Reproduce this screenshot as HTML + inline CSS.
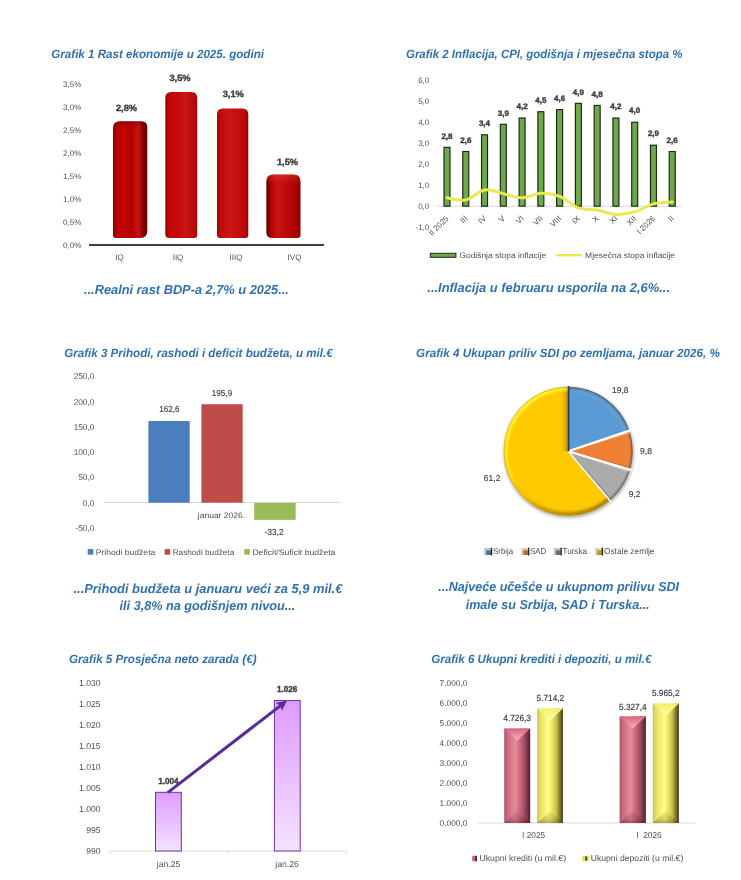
<!DOCTYPE html>
<html lang="sr"><head><meta charset="utf-8"><title>Grafici</title>
<style>html,body{margin:0;padding:0;background:#fff;}body{width:741px;height:880px;overflow:hidden;}svg{display:block;will-change:transform;text-rendering:geometricPrecision;font-family:"Liberation Sans", sans-serif;}</style>
</head><body>
<svg width="741" height="880" viewBox="0 0 741 880">
<defs>
<linearGradient id="r1" x1="0" x2="1" y1="0" y2="0"><stop offset="0" stop-color="#7d0000"/><stop offset="0.10" stop-color="#b80202"/><stop offset="0.3" stop-color="#c20505"/><stop offset="0.55" stop-color="#b60000"/><stop offset="0.74" stop-color="#c41616"/><stop offset="0.84" stop-color="#9a0505"/><stop offset="0.9" stop-color="#740000"/><stop offset="1" stop-color="#6a0000"/></linearGradient>
<linearGradient id="r2" x1="0" x2="1" y1="0" y2="0"><stop offset="0" stop-color="#8a0000"/><stop offset="0.10" stop-color="#c00606"/><stop offset="0.45" stop-color="#c40a0a"/><stop offset="0.62" stop-color="#c91616"/><stop offset="0.85" stop-color="#bb0c0c"/><stop offset="1" stop-color="#a60606"/></linearGradient>
<linearGradient id="r3" x1="0" x2="1" y1="0" y2="0"><stop offset="0" stop-color="#a00404"/><stop offset="0.12" stop-color="#c20a0a"/><stop offset="0.4" stop-color="#ca1616"/><stop offset="0.7" stop-color="#c40c0c"/><stop offset="0.92" stop-color="#b80606"/><stop offset="1" stop-color="#900000"/></linearGradient>
<linearGradient id="r4" x1="0" x2="1" y1="0" y2="0"><stop offset="0" stop-color="#6c0000"/><stop offset="0.07" stop-color="#860000"/><stop offset="0.16" stop-color="#b20606"/><stop offset="0.32" stop-color="#c81414"/><stop offset="0.6" stop-color="#be0808"/><stop offset="0.86" stop-color="#aa0202"/><stop offset="1" stop-color="#880000"/></linearGradient>
<linearGradient id="tophi" x1="0" x2="0" y1="0" y2="1"><stop offset="0" stop-color="#ff5a4a" stop-opacity="0.30"/><stop offset="1" stop-color="#ff5a4a" stop-opacity="0"/></linearGradient>
<linearGradient id="topsh" x1="0" x2="0" y1="0" y2="1"><stop offset="0" stop-color="#400000" stop-opacity="0.30"/><stop offset="1" stop-color="#400000" stop-opacity="0"/></linearGradient>
<linearGradient id="pb" x1="0" x2="0" y1="0" y2="1"><stop offset="0" stop-color="#df9bff"/><stop offset="1" stop-color="#f3e3ff"/></linearGradient>
<linearGradient id="k6" x1="0" x2="1" y1="0" y2="0"><stop offset="0" stop-color="#a85466"/><stop offset="0.08" stop-color="#c4667a"/><stop offset="0.42" stop-color="#e98a9b"/><stop offset="0.52" stop-color="#dc788b"/><stop offset="0.75" stop-color="#aa5264"/><stop offset="0.92" stop-color="#6c3242"/><stop offset="1" stop-color="#4c202e"/></linearGradient>
<linearGradient id="k6t" x1="0" x2="0" y1="0" y2="1"><stop offset="0" stop-color="#dc6480"/><stop offset="1" stop-color="#f8b0bc"/></linearGradient>
<linearGradient id="k6b" x1="0" x2="0" y1="0" y2="1"><stop offset="0" stop-color="#50101e" stop-opacity="0.08"/><stop offset="0.7" stop-color="#50101e" stop-opacity="0.22"/><stop offset="1" stop-color="#50101e" stop-opacity="0.42"/></linearGradient>
<linearGradient id="d6" x1="0" x2="1" y1="0" y2="0"><stop offset="0" stop-color="#c4bc4e"/><stop offset="0.10" stop-color="#e4de5e"/><stop offset="0.44" stop-color="#ffff8a"/><stop offset="0.55" stop-color="#f3ed68"/><stop offset="0.75" stop-color="#c4bc4e"/><stop offset="0.92" stop-color="#6a6428"/><stop offset="1" stop-color="#3c3a12"/></linearGradient>
<linearGradient id="d6t" x1="0" x2="0" y1="0" y2="1"><stop offset="0" stop-color="#f6f060"/><stop offset="1" stop-color="#ffffb0"/></linearGradient>
<linearGradient id="d6b" x1="0" x2="0" y1="0" y2="1"><stop offset="0" stop-color="#4a4400" stop-opacity="0.08"/><stop offset="0.7" stop-color="#4a4400" stop-opacity="0.22"/><stop offset="1" stop-color="#4a4400" stop-opacity="0.42"/></linearGradient>
<filter id="blur2" x="-20%" y="-20%" width="140%" height="140%"><feGaussianBlur stdDeviation="1.6"/></filter>
<radialGradient id="rim" cx="0.5" cy="0.5" r="0.5"><stop offset="0.90" stop-color="#000" stop-opacity="0"/><stop offset="0.95" stop-color="#000" stop-opacity="0.10"/><stop offset="1" stop-color="#3a2a00" stop-opacity="0.38"/></radialGradient>
<linearGradient id="hil" x1="0" y1="0" x2="1" y2="1"><stop offset="0" stop-color="#fff" stop-opacity="0.55"/><stop offset="0.5" stop-color="#fff" stop-opacity="0.05"/><stop offset="1" stop-color="#fff" stop-opacity="0"/></linearGradient>
</defs>
<text x="51.3" y="57.8" font-size="12" fill="#2f70b1" font-weight="bold" font-style="italic" textLength="212.7" lengthAdjust="spacingAndGlyphs">Grafik 1 Rast ekonomije u 2025. godini</text>
<text x="81.3" y="87" font-size="8" fill="#505050" text-anchor="end">3,5%</text>
<text x="81.3" y="110" font-size="8" fill="#505050" text-anchor="end">3,0%</text>
<text x="81.3" y="133" font-size="8" fill="#505050" text-anchor="end">2,5%</text>
<text x="81.3" y="156" font-size="8" fill="#505050" text-anchor="end">2,0%</text>
<text x="81.3" y="179" font-size="8" fill="#505050" text-anchor="end">1,5%</text>
<text x="81.3" y="202" font-size="8" fill="#505050" text-anchor="end">1,0%</text>
<text x="81.3" y="225" font-size="8" fill="#505050" text-anchor="end">0,5%</text>
<text x="81.3" y="248" font-size="8" fill="#505050" text-anchor="end">0,0%</text>
<path d="M113,128.3 Q113,121.3 120,121.3 L141.3,121.3 Q147.3,121.3 147.3,127.3 L147.3,231 Q147.3,238 140.3,238 L116,238 Q113,238 113,235 Z" fill="url(#r1)"/>
<path d="M165.3,98 Q165.3,92 171.3,92 L191.2,92 Q197.2,92 197.2,98 L197.2,235 Q197.2,238 194.2,238 L169.3,238 Q165.3,238 165.3,234 Z" fill="url(#r2)"/>
<path d="M217,114.6 Q217,108.6 223,108.6 L242.3,108.6 Q248.3,108.6 248.3,114.6 L248.3,235 Q248.3,238 245.3,238 L220,238 Q217,238 217,235 Z" fill="url(#r3)"/>
<path d="M266.3,181.5 Q266.3,174.5 273.3,174.5 L293.5,174.5 Q300.5,174.5 300.5,181.5 L300.5,235 Q300.5,238 297.5,238 L272.3,238 Q266.3,238 266.3,232 Z" fill="url(#r4)"/>
<path d="M266.3,181.5 Q266.3,174.5 273.3,174.5 L293.5,174.5 Q300.5,174.5 300.5,181.5 L300.5,184 L266.3,184 Z" fill="url(#tophi)"/>
<path d="M113,128.3 Q113,121.3 120,121.3 L141.3,121.3 Q147.3,121.3 147.3,127.3 L147.3,129 L113,129 Z" fill="url(#topsh)"/>
<rect x="89" y="244" width="235" height="2" fill="#404040"/>
<text x="115.9" y="110.8" font-size="9.1" fill="#404040" font-weight="bold" stroke="#404040" stroke-width="0.4" textLength="21.2" lengthAdjust="spacingAndGlyphs">2,8%</text>
<text x="169.4" y="80.8" font-size="9.1" fill="#404040" font-weight="bold" stroke="#404040" stroke-width="0.4" textLength="21.2" lengthAdjust="spacingAndGlyphs">3,5%</text>
<text x="222.70000000000002" y="97.3" font-size="9.1" fill="#404040" font-weight="bold" stroke="#404040" stroke-width="0.4" textLength="21.2" lengthAdjust="spacingAndGlyphs">3,1%</text>
<text x="276.9" y="164.8" font-size="9.1" fill="#404040" font-weight="bold" stroke="#404040" stroke-width="0.4" textLength="21.2" lengthAdjust="spacingAndGlyphs">1,5%</text>
<text x="119.5" y="260" font-size="8" fill="#505050" text-anchor="middle">IQ</text>
<text x="178" y="260" font-size="8" fill="#505050" text-anchor="middle">IIQ</text>
<text x="236" y="260" font-size="8" fill="#505050" text-anchor="middle">IIIQ</text>
<text x="294.5" y="260" font-size="8" fill="#505050" text-anchor="middle">IVQ</text>
<text x="84" y="293.5" font-size="13" fill="#2f70b1" font-weight="bold" font-style="italic" textLength="204.8" lengthAdjust="spacingAndGlyphs">...Realni rast BDP-a 2,7% u 2025...</text>
<text x="406" y="57.7" font-size="12" fill="#2f70b1" font-weight="bold" font-style="italic" textLength="276.4" lengthAdjust="spacingAndGlyphs">Grafik 2 Inflacija, CPI, godišnja i mjesečna stopa %</text>
<text x="429.3" y="83.0" font-size="8" fill="#505050" text-anchor="end">6,0</text>
<text x="429.3" y="103.95" font-size="8" fill="#505050" text-anchor="end">5,0</text>
<text x="429.3" y="124.9" font-size="8" fill="#505050" text-anchor="end">4,0</text>
<text x="429.3" y="145.85" font-size="8" fill="#505050" text-anchor="end">3,0</text>
<text x="429.3" y="166.8" font-size="8" fill="#505050" text-anchor="end">2,0</text>
<text x="429.3" y="187.75" font-size="8" fill="#505050" text-anchor="end">1,0</text>
<text x="429.3" y="208.7" font-size="8" fill="#505050" text-anchor="end">0,0</text>
<text x="429.3" y="229.65" font-size="8" fill="#505050" text-anchor="end">-1,0</text>
<rect x="437" y="205.7" width="245" height="1" fill="#d9d9d9"/>
<rect x="444.00" y="147.34" width="6.0" height="58.86" fill="#6fa84c" stroke="#1a2810" stroke-width="1.15"/>
<text x="441.4" y="138.5" font-size="8.0" fill="#404040" font-weight="bold" stroke="#404040" stroke-width="0.4" textLength="11.2" lengthAdjust="spacingAndGlyphs">2,8</text>
<text x="449.2" y="219.0" font-size="8" fill="#505050" text-anchor="end" transform="rotate(-45 449.2 219.0)">II 2025</text>
<rect x="462.77" y="151.53" width="6.0" height="54.67" fill="#6fa84c" stroke="#1a2810" stroke-width="1.15"/>
<text x="460.2" y="142.7" font-size="8.0" fill="#404040" font-weight="bold" stroke="#404040" stroke-width="0.4" textLength="11.2" lengthAdjust="spacingAndGlyphs">2,6</text>
<text x="468.0" y="219.0" font-size="8" fill="#505050" text-anchor="end" transform="rotate(-45 468.0 219.0)">III</text>
<rect x="481.54" y="134.77" width="6.0" height="71.43" fill="#6fa84c" stroke="#1a2810" stroke-width="1.15"/>
<text x="478.9" y="126.0" font-size="8.0" fill="#404040" font-weight="bold" stroke="#404040" stroke-width="0.4" textLength="11.2" lengthAdjust="spacingAndGlyphs">3,4</text>
<text x="486.7" y="219.0" font-size="8" fill="#505050" text-anchor="end" transform="rotate(-45 486.7 219.0)">IV</text>
<rect x="500.31" y="124.29" width="6.0" height="81.91" fill="#6fa84c" stroke="#1a2810" stroke-width="1.15"/>
<text x="497.7" y="115.5" font-size="8.0" fill="#404040" font-weight="bold" stroke="#404040" stroke-width="0.4" textLength="11.2" lengthAdjust="spacingAndGlyphs">3,9</text>
<text x="505.5" y="219.0" font-size="8" fill="#505050" text-anchor="end" transform="rotate(-45 505.5 219.0)">V</text>
<rect x="519.08" y="118.01" width="6.0" height="88.19" fill="#6fa84c" stroke="#1a2810" stroke-width="1.15"/>
<text x="516.5" y="109.2" font-size="8.0" fill="#404040" font-weight="bold" stroke="#404040" stroke-width="0.4" textLength="11.2" lengthAdjust="spacingAndGlyphs">4,2</text>
<text x="524.3" y="219.0" font-size="8" fill="#505050" text-anchor="end" transform="rotate(-45 524.3 219.0)">VI</text>
<rect x="537.85" y="111.72" width="6.0" height="94.47" fill="#6fa84c" stroke="#1a2810" stroke-width="1.15"/>
<text x="535.2" y="102.9" font-size="8.0" fill="#404040" font-weight="bold" stroke="#404040" stroke-width="0.4" textLength="11.2" lengthAdjust="spacingAndGlyphs">4,5</text>
<text x="543.1" y="219.0" font-size="8" fill="#505050" text-anchor="end" transform="rotate(-45 543.1 219.0)">VII</text>
<rect x="556.62" y="109.63" width="6.0" height="96.57" fill="#6fa84c" stroke="#1a2810" stroke-width="1.15"/>
<text x="554.0" y="100.8" font-size="8.0" fill="#404040" font-weight="bold" stroke="#404040" stroke-width="0.4" textLength="11.2" lengthAdjust="spacingAndGlyphs">4,6</text>
<text x="561.8" y="219.0" font-size="8" fill="#505050" text-anchor="end" transform="rotate(-45 561.8 219.0)">VIII</text>
<rect x="575.39" y="103.34" width="6.0" height="102.86" fill="#6fa84c" stroke="#1a2810" stroke-width="1.15"/>
<text x="572.8" y="94.5" font-size="8.0" fill="#404040" font-weight="bold" stroke="#404040" stroke-width="0.4" textLength="11.2" lengthAdjust="spacingAndGlyphs">4,9</text>
<text x="580.6" y="219.0" font-size="8" fill="#505050" text-anchor="end" transform="rotate(-45 580.6 219.0)">IX</text>
<rect x="594.16" y="105.44" width="6.0" height="100.76" fill="#6fa84c" stroke="#1a2810" stroke-width="1.15"/>
<text x="591.6" y="96.6" font-size="8.0" fill="#404040" font-weight="bold" stroke="#404040" stroke-width="0.4" textLength="11.2" lengthAdjust="spacingAndGlyphs">4,8</text>
<text x="599.4" y="219.0" font-size="8" fill="#505050" text-anchor="end" transform="rotate(-45 599.4 219.0)">X</text>
<rect x="612.93" y="118.01" width="6.0" height="88.19" fill="#6fa84c" stroke="#1a2810" stroke-width="1.15"/>
<text x="610.3" y="109.2" font-size="8.0" fill="#404040" font-weight="bold" stroke="#404040" stroke-width="0.4" textLength="11.2" lengthAdjust="spacingAndGlyphs">4,2</text>
<text x="618.1" y="219.0" font-size="8" fill="#505050" text-anchor="end" transform="rotate(-45 618.1 219.0)">XI</text>
<rect x="631.70" y="122.20" width="6.0" height="84.00" fill="#6fa84c" stroke="#1a2810" stroke-width="1.15"/>
<text x="629.1" y="113.4" font-size="8.0" fill="#404040" font-weight="bold" stroke="#404040" stroke-width="0.4" textLength="11.2" lengthAdjust="spacingAndGlyphs">4,0</text>
<text x="636.9" y="219.0" font-size="8" fill="#505050" text-anchor="end" transform="rotate(-45 636.9 219.0)">XII</text>
<rect x="650.47" y="145.25" width="6.0" height="60.95" fill="#6fa84c" stroke="#1a2810" stroke-width="1.15"/>
<text x="647.9" y="136.4" font-size="8.0" fill="#404040" font-weight="bold" stroke="#404040" stroke-width="0.4" textLength="11.2" lengthAdjust="spacingAndGlyphs">2,9</text>
<text x="655.7" y="219.0" font-size="8" fill="#505050" text-anchor="end" transform="rotate(-45 655.7 219.0)">I 2026</text>
<rect x="669.24" y="151.53" width="6.0" height="54.67" fill="#6fa84c" stroke="#1a2810" stroke-width="1.15"/>
<text x="666.6" y="142.7" font-size="8.0" fill="#404040" font-weight="bold" stroke="#404040" stroke-width="0.4" textLength="11.2" lengthAdjust="spacingAndGlyphs">2,6</text>
<text x="674.4" y="219.0" font-size="8" fill="#505050" text-anchor="end" transform="rotate(-45 674.4 219.0)">II</text>
<path d="M447.0,197.8 C450.1,198.2 459.5,201.2 465.8,199.9 C472.0,198.6 478.3,190.9 484.5,189.9 C490.8,188.8 497.1,192.3 503.3,193.6 C509.6,195.0 515.8,197.9 522.1,197.8 C528.3,197.8 534.6,193.5 540.9,193.2 C547.1,193.0 553.4,193.9 559.6,196.4 C565.9,198.8 572.1,205.6 578.4,207.9 C584.6,210.1 590.9,208.9 597.2,210.0 C603.4,211.1 609.7,214.1 615.9,214.4 C622.2,214.7 628.4,213.6 634.7,211.9 C641.0,210.1 647.2,205.5 653.5,203.9 C659.7,202.3 669.1,202.3 672.2,202.0" fill="none" stroke="#ece850" stroke-width="3" stroke-linecap="round" stroke-linejoin="round"/>
<rect x="430.3" y="253.3" width="25.6" height="4" fill="#6fa84c" stroke="#1d2b12" stroke-width="1"/>
<text x="459.4" y="258" font-size="8" fill="#505050" textLength="86.7" lengthAdjust="spacingAndGlyphs">Godišnja stopa inflacije</text>
<rect x="555.6" y="254" width="26.6" height="2.4" fill="#ece850"/>
<text x="585.1" y="258" font-size="8" fill="#505050" textLength="90" lengthAdjust="spacingAndGlyphs">Mjesečna stopa inflacije</text>
<text x="427.3" y="292.2" font-size="13" fill="#2f70b1" font-weight="bold" font-style="italic" textLength="242.7" lengthAdjust="spacingAndGlyphs">...Inflacija u februaru usporila na 2,6%...</text>
<text x="64.2" y="357" font-size="12" fill="#2f70b1" font-weight="bold" font-style="italic" textLength="268.4" lengthAdjust="spacingAndGlyphs">Grafik 3 Prihodi, rashodi i deficit budžeta, u mil.€</text>
<text x="94.4" y="379.2" font-size="8.3" fill="#505050" text-anchor="end">250,0</text>
<text x="94.4" y="405.1" font-size="8.3" fill="#505050" text-anchor="end">200,0</text>
<text x="94.4" y="430.2" font-size="8.3" fill="#505050" text-anchor="end">150,0</text>
<text x="94.4" y="455.0" font-size="8.3" fill="#505050" text-anchor="end">100,0</text>
<text x="94.4" y="480.1" font-size="8.3" fill="#505050" text-anchor="end">50,0</text>
<text x="94.4" y="505.6" font-size="8.3" fill="#505050" text-anchor="end">0,0</text>
<text x="94.4" y="530.8" font-size="8.3" fill="#505050" text-anchor="end">-50,0</text>
<rect x="104.7" y="501.95" width="236" height="1" fill="#d9d9d9"/>
<rect x="148.4" y="420.96" width="41.3" height="81.79" fill="#4b7ebc"/>
<rect x="201.4" y="404.21" width="41.3" height="98.54" fill="#be4d4a"/>
<rect x="254.2" y="502.95" width="41.5" height="16.90" fill="#9bbb59"/>
<text x="159.20000000000002" y="412.2" font-size="8.7" fill="#404040" textLength="20.4" lengthAdjust="spacingAndGlyphs" stroke="#404040" stroke-width="0.15">162,6</text>
<text x="211.8" y="396.2" font-size="8.7" fill="#404040" textLength="20.4" lengthAdjust="spacingAndGlyphs" stroke="#404040" stroke-width="0.15">195,9</text>
<text x="264.4" y="535.4" font-size="8.7" fill="#404040" textLength="19.2" lengthAdjust="spacingAndGlyphs" stroke="#404040" stroke-width="0.15">-33,2</text>
<text x="197.8" y="518.2" font-size="8" fill="#505050" textLength="47.3" lengthAdjust="spacingAndGlyphs">januar 2026.</text>
<rect x="87.7" y="549.1" width="5.6" height="5.6" fill="#4b7ebc"/>
<text x="95.7" y="554.8" font-size="8" fill="#505050" textLength="59.6" lengthAdjust="spacingAndGlyphs">Prihodi budžeta</text>
<rect x="164.6" y="549.1" width="5.6" height="5.6" fill="#be4d4a"/>
<text x="172.7" y="554.8" font-size="8" fill="#505050" textLength="61.5" lengthAdjust="spacingAndGlyphs">Rashodi budžeta</text>
<rect x="244.3" y="549.1" width="5.6" height="5.6" fill="#9bbb59"/>
<text x="252.4" y="554.8" font-size="8" fill="#505050" textLength="83" lengthAdjust="spacingAndGlyphs">Deficit/Suficit budžeta</text>
<text x="73.5" y="592.6" font-size="13" fill="#2f70b1" font-weight="bold" font-style="italic" textLength="268.8" lengthAdjust="spacingAndGlyphs">...Prihodi budžeta u januaru veći za 5,9 mil.€</text>
<text x="119.6" y="610.4" font-size="13" fill="#2f70b1" font-weight="bold" font-style="italic" textLength="175.7" lengthAdjust="spacingAndGlyphs">ili 3,8% na godišnjem nivou...</text>
<text x="416.1" y="357" font-size="12" fill="#2f70b1" font-weight="bold" font-style="italic" textLength="303.8" lengthAdjust="spacingAndGlyphs">Grafik 4 Ukupan priliv SDI po zemljama, januar 2026, %</text>
<defs>
<clipPath id="pclip"><circle cx="568.2" cy="451.3" r="64.6"/></clipPath>
<clipPath id="yclip"><path d="M568.20,451.30 L610.00,500.55 A64.6,64.6 0 1 1 568.20,386.70 Z"/></clipPath>
<clipPath id="oclip"><path d="M568.20,451.30 L568.20,386.70 A64.6,64.6 0 0 1 610.00,500.55 Z"/></clipPath>
<linearGradient id="ring" x1="0.15" y1="0.1" x2="0.85" y2="0.95"><stop offset="0" stop-color="#ffff30" stop-opacity="0.85"/><stop offset="0.38" stop-color="#ffff30" stop-opacity="0.35"/><stop offset="0.5" stop-color="#806000" stop-opacity="0.05"/><stop offset="0.7" stop-color="#5a3c00" stop-opacity="0.32"/><stop offset="1" stop-color="#4a3000" stop-opacity="0.5"/></linearGradient>
<linearGradient id="yshade" x1="0" x2="1" y1="0" y2="0"><stop offset="0" stop-color="#7a5200" stop-opacity="0"/><stop offset="1" stop-color="#7a5200" stop-opacity="0.45"/></linearGradient>
<filter id="blur06" x="-10%" y="-10%" width="120%" height="120%"><feGaussianBlur stdDeviation="0.9"/></filter>
</defs>
<circle cx="568.8000000000001" cy="452.7" r="65.19999999999999" fill="#808080" opacity="0.6" filter="url(#blur2)"/>
<path d="M568.20,451.30 L568.20,386.70 A64.6,64.6 0 0 1 629.38,430.57 Z" fill="#5b9bd5"/>
<path d="M568.20,451.30 L629.38,430.57 A64.6,64.6 0 0 1 630.12,469.71 Z" fill="#ee7f33"/>
<path d="M568.20,451.30 L630.12,469.71 A64.6,64.6 0 0 1 610.00,500.55 Z" fill="#aaaaaa"/>
<path d="M568.20,451.30 L610.00,500.55 A64.6,64.6 0 1 1 568.20,386.70 Z" fill="#ffc900"/>
<g clip-path="url(#pclip)">
<rect x="561.2" y="386.70000000000005" width="7" height="64.6" fill="url(#yshade)" clip-path="url(#yclip)"/>
<g clip-path="url(#yclip)"><circle cx="568.2" cy="451.3" r="62.599999999999994" fill="none" stroke="url(#ring)" stroke-width="4.2" filter="url(#blur06)"/></g>
<g clip-path="url(#oclip)"><circle cx="568.2" cy="451.3" r="62.99999999999999" fill="none" stroke="#203040" stroke-opacity="0.16" stroke-width="3.4" filter="url(#blur06)"/><circle cx="568.2" cy="451.3" r="63.89999999999999" fill="none" stroke="#5a5650" stroke-opacity="0.62" stroke-width="1.5"/><circle cx="568.2" cy="451.3" r="60.599999999999994" fill="none" stroke="#ffffff" stroke-opacity="0.16" stroke-width="1.6" filter="url(#blur06)"/></g>
<circle cx="568.2" cy="451.3" r="64.19999999999999" fill="none" stroke="#6e6650" stroke-opacity="0.32" stroke-width="0.9"/>
<line x1="568.2" y1="451.3" x2="629.94" y2="432.28" stroke="#ffffff" stroke-opacity="0.45" stroke-width="1.4"/>
<line x1="568.2" y1="451.3" x2="629.58" y2="471.43" stroke="#ffffff" stroke-opacity="0.45" stroke-width="1.4"/>
<line x1="568.2" y1="451.3" x2="630.58" y2="468.09" stroke="#8a3c00" stroke-opacity="0.35" stroke-width="1.4"/>
<line x1="568.2" y1="451.3" x2="611.27" y2="499.44" stroke="#505050" stroke-opacity="0.35" stroke-width="1.4"/>
</g>
<line x1="568.2" y1="451.3" x2="630.80" y2="430.09" stroke="#ffffff" stroke-width="2.2"/>
<line x1="568.2" y1="451.3" x2="631.56" y2="470.14" stroke="#ffffff" stroke-width="2.2"/>
<line x1="568.2" y1="451.3" x2="610.97" y2="501.70" stroke="#ffffff" stroke-width="1.4"/>
<line x1="568.6" y1="451.3" x2="568.60" y2="386.10" stroke="#2c3e50" stroke-width="1.8"/>
<text x="620.2" y="393" font-size="8.5" fill="#404040" text-anchor="middle" stroke="#404040" stroke-width="0.15">19,8</text>
<text x="646" y="454.2" font-size="8.5" fill="#404040" text-anchor="middle" stroke="#404040" stroke-width="0.15">9,8</text>
<text x="634.7" y="497.2" font-size="8.5" fill="#404040" text-anchor="middle" stroke="#404040" stroke-width="0.15">9,2</text>
<text x="492.1" y="481" font-size="8.5" fill="#404040" text-anchor="middle" stroke="#404040" stroke-width="0.15">61,2</text>
<rect x="484.1" y="548" width="7" height="7" fill="#b4c8dc"/>
<rect x="486.3" y="550.3" width="4.8" height="4.7" fill="#4a7194"/>
<rect x="490.90000000000003" y="547.6" width="1.3" height="7.8" fill="#1c1c1c"/>
<text x="493.0" y="554.2" font-size="8.6" fill="#505050" textLength="20.2" lengthAdjust="spacingAndGlyphs">Srbija</text>
<rect x="521.3" y="548" width="7" height="7" fill="#e6c6ae"/>
<rect x="523.5" y="550.3" width="4.8" height="4.7" fill="#b4662c"/>
<rect x="528.0999999999999" y="547.6" width="1.3" height="7.8" fill="#1c1c1c"/>
<text x="530.1999999999999" y="554.2" font-size="8.6" fill="#505050" textLength="15.9" lengthAdjust="spacingAndGlyphs">SAD</text>
<rect x="553.7" y="548" width="7" height="7" fill="#c6c6c6"/>
<rect x="555.9000000000001" y="550.3" width="4.8" height="4.7" fill="#6e6e6e"/>
<rect x="560.5" y="547.6" width="1.3" height="7.8" fill="#1c1c1c"/>
<text x="562.6" y="554.2" font-size="8.6" fill="#505050" textLength="24.3" lengthAdjust="spacingAndGlyphs">Turska</text>
<rect x="595" y="548" width="7" height="7" fill="#e6d89a"/>
<rect x="597.2" y="550.3" width="4.8" height="4.7" fill="#b09a20"/>
<rect x="601.8" y="547.6" width="1.3" height="7.8" fill="#1c1c1c"/>
<text x="603.9" y="554.2" font-size="8.6" fill="#505050" textLength="50.6" lengthAdjust="spacingAndGlyphs">Ostale zemlje</text>
<text x="438.2" y="590.9" font-size="13" fill="#2f70b1" font-weight="bold" font-style="italic" textLength="240.9" lengthAdjust="spacingAndGlyphs">...Najveće učešće u ukupnom prilivu SDI</text>
<text x="465.7" y="608.7" font-size="13" fill="#2f70b1" font-weight="bold" font-style="italic" textLength="183.9" lengthAdjust="spacingAndGlyphs">imale su Srbija, SAD i Turska...</text>
<text x="69" y="663.4" font-size="12" fill="#2f70b1" font-weight="bold" font-style="italic" textLength="187.5" lengthAdjust="spacingAndGlyphs">Grafik 5 Prosječna neto zarada (€)</text>
<text x="100.5" y="686.4" font-size="8.6" fill="#505050" text-anchor="end">1.030</text>
<text x="100.5" y="707.35" font-size="8.6" fill="#505050" text-anchor="end">1.025</text>
<text x="100.5" y="728.3" font-size="8.6" fill="#505050" text-anchor="end">1.020</text>
<text x="100.5" y="749.25" font-size="8.6" fill="#505050" text-anchor="end">1.015</text>
<text x="100.5" y="770.1999999999999" font-size="8.6" fill="#505050" text-anchor="end">1.010</text>
<text x="100.5" y="791.15" font-size="8.6" fill="#505050" text-anchor="end">1.005</text>
<text x="100.5" y="812.0999999999999" font-size="8.6" fill="#505050" text-anchor="end">1.000</text>
<text x="100.5" y="833.05" font-size="8.6" fill="#505050" text-anchor="end">995</text>
<text x="100.5" y="854.0" font-size="8.6" fill="#505050" text-anchor="end">990</text>
<rect x="109.4" y="850.5" width="237.2" height="1" fill="#d9d9d9"/>
<rect x="109.4" y="851" width="1" height="3" fill="#d9d9d9"/>
<rect x="228" y="851" width="1" height="3" fill="#d9d9d9"/>
<rect x="346.1" y="851" width="1" height="3" fill="#d9d9d9"/>
<rect x="155.5" y="792.3" width="25.8" height="58.7" fill="url(#pb)" stroke="#7030a0" stroke-width="1"/>
<rect x="274.4" y="700.6" width="25.8" height="150.4" fill="url(#pb)" stroke="#7030a0" stroke-width="1"/>
<text x="158.20000000000002" y="783.8" font-size="8.7" fill="#404040" font-weight="bold" stroke="#404040" stroke-width="0.4" textLength="20.4" lengthAdjust="spacingAndGlyphs">1.004</text>
<text x="276.90000000000003" y="692" font-size="8.7" fill="#404040" font-weight="bold" stroke="#404040" stroke-width="0.4" textLength="20.4" lengthAdjust="spacingAndGlyphs">1.026</text>
<line x1="167.7" y1="792.6" x2="280.19" y2="705.85" stroke="#582c96" stroke-width="3.0" stroke-linecap="butt"/>
<path d="M287.00,700.60 L281.92,710.71 L280.19,705.85 L275.93,702.95 Z" fill="#582c96"/>
<text x="168.5" y="866.5" font-size="8.6" fill="#505050" text-anchor="middle">jan.25</text>
<text x="287" y="866.5" font-size="8.6" fill="#505050" text-anchor="middle">jan.26</text>
<text x="431.2" y="663.4" font-size="12" fill="#2f70b1" font-weight="bold" font-style="italic" textLength="220.3" lengthAdjust="spacingAndGlyphs">Grafik 6 Ukupni krediti i depoziti, u mil.€</text>
<text x="467.3" y="686.1" font-size="8.3" fill="#505050" text-anchor="end">7.000,0</text>
<text x="467.3" y="706.0500000000001" font-size="8.3" fill="#505050" text-anchor="end">6.000,0</text>
<text x="467.3" y="726.0" font-size="8.3" fill="#505050" text-anchor="end">5.000,0</text>
<text x="467.3" y="745.95" font-size="8.3" fill="#505050" text-anchor="end">4.000,0</text>
<text x="467.3" y="765.9" font-size="8.3" fill="#505050" text-anchor="end">3.000,0</text>
<text x="467.3" y="785.85" font-size="8.3" fill="#505050" text-anchor="end">2.000,0</text>
<text x="467.3" y="805.8" font-size="8.3" fill="#505050" text-anchor="end">1.000,0</text>
<text x="467.3" y="825.75" font-size="8.3" fill="#505050" text-anchor="end">0.000,0</text>
<rect x="476.7" y="822.5" width="218.4" height="1" fill="#d9d9d9"/>
<rect x="504.2" y="728.6" width="26.00" height="94.40" fill="url(#k6)"/>
<path d="M504.2,728.6 L530.2,728.6 L517.20,740.56 Z" fill="url(#k6t)"/>
<path d="M504.2,823 L530.2,823 L517.20,811.04 Z" fill="url(#k6b)"/>
<rect x="537.2" y="708.6" width="25.70" height="114.40" fill="url(#d6)"/>
<path d="M537.2,708.6 L562.9,708.6 L550.05,720.42 Z" fill="url(#d6t)"/>
<path d="M537.2,823 L562.9,823 L550.05,811.18 Z" fill="url(#d6b)"/>
<rect x="619.6" y="716.4" width="26.30" height="106.60" fill="url(#k6)"/>
<path d="M619.6,716.4 L645.9,716.4 L632.75,728.50 Z" fill="url(#k6t)"/>
<path d="M619.6,823 L645.9,823 L632.75,810.90 Z" fill="url(#k6b)"/>
<rect x="652.8" y="703.6" width="26.10" height="119.40" fill="url(#d6)"/>
<path d="M652.8,703.6 L678.9,703.6 L665.85,715.61 Z" fill="url(#d6t)"/>
<path d="M652.8,823 L678.9,823 L665.85,810.99 Z" fill="url(#d6b)"/>
<text x="503.3" y="721" font-size="8.8" fill="#3c3c3c" textLength="27.6" lengthAdjust="spacingAndGlyphs" stroke="#3c3c3c" stroke-width="0.18">4.726,3</text>
<text x="536.6" y="701.0" font-size="8.8" fill="#3c3c3c" textLength="27.6" lengthAdjust="spacingAndGlyphs" stroke="#3c3c3c" stroke-width="0.18">5.714,2</text>
<text x="619.0" y="709.7" font-size="8.8" fill="#3c3c3c" textLength="27.6" lengthAdjust="spacingAndGlyphs" stroke="#3c3c3c" stroke-width="0.18">5.327,4</text>
<text x="651.9000000000001" y="695.7" font-size="8.8" fill="#3c3c3c" textLength="27.6" lengthAdjust="spacingAndGlyphs" stroke="#3c3c3c" stroke-width="0.18">5.965,2</text>
<text x="522.1" y="838.2" font-size="8.6" fill="#505050" textLength="23" lengthAdjust="spacingAndGlyphs">I 2025</text>
<text x="636.4" y="838.2" font-size="8.6" fill="#505050" textLength="25.2" lengthAdjust="spacingAndGlyphs" xml:space="preserve">I  2026</text>
<rect x="472.2" y="855.8" width="4.8" height="5.4" fill="#c8627a"/>
<rect x="475.2" y="855.8" width="1.8" height="5.4" fill="#5a2434"/>
<text x="479.4" y="861.3" font-size="8.6" fill="#505050" textLength="86.7" lengthAdjust="spacingAndGlyphs">Ukupni krediti (u mil.€)</text>
<rect x="582.3" y="855.8" width="6.5" height="5.4" fill="#e6e05c"/>
<rect x="585.2" y="856.4" width="1.9" height="4.2" fill="#4a4818"/>
<text x="590.7" y="861.3" font-size="8.6" fill="#505050" textLength="92.6" lengthAdjust="spacingAndGlyphs">Ukupni depoziti (u mil.€)</text>
</svg>
</body></html>
